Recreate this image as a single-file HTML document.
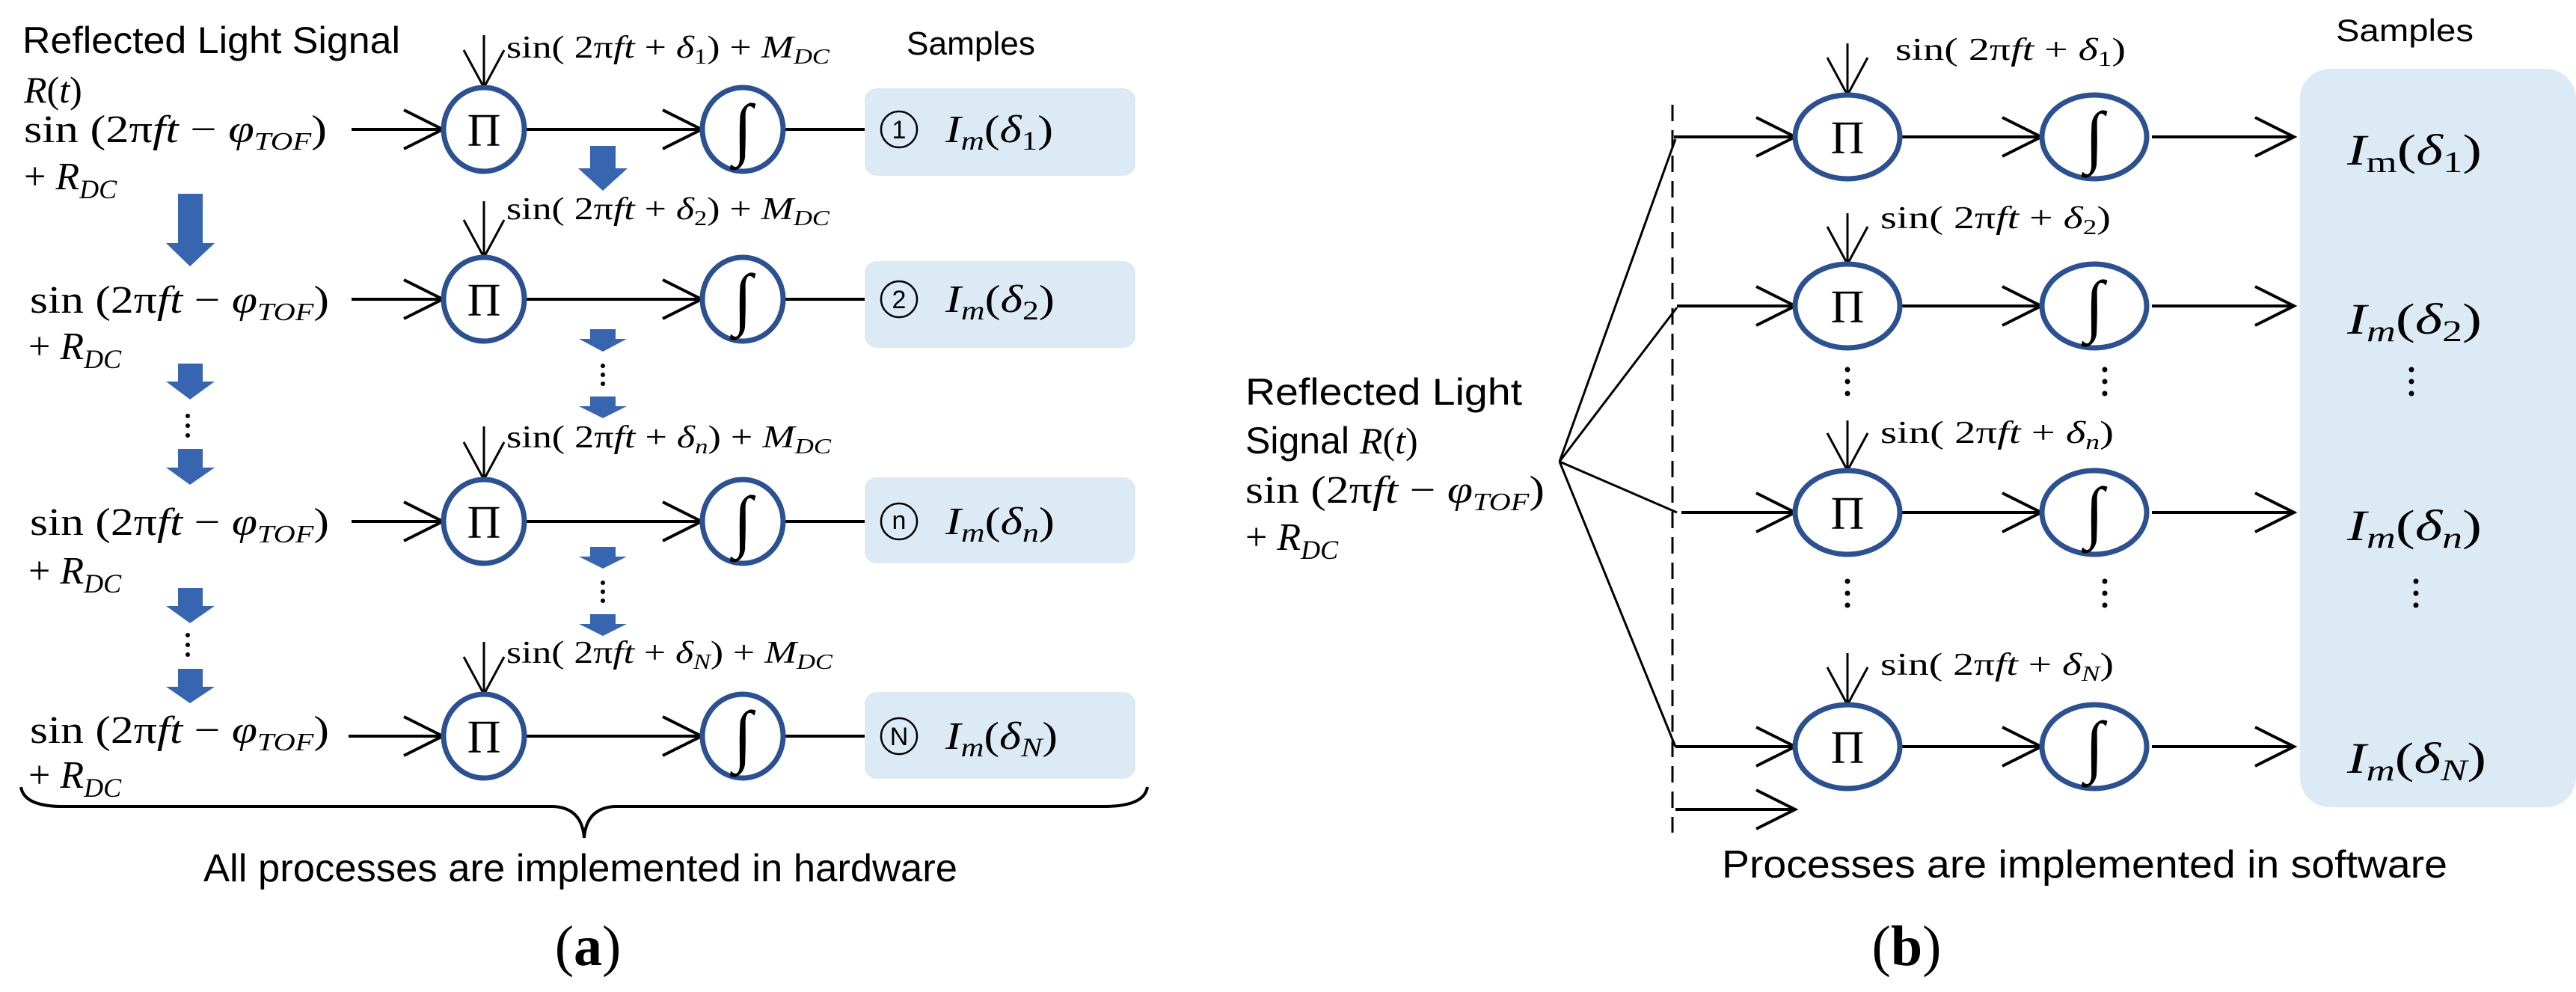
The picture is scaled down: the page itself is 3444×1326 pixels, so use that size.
<!DOCTYPE html>
<html><head><meta charset="utf-8"><style>
html,body{margin:0;padding:0;background:#fff;}
svg{display:block;}
.s{font-family:"Liberation Sans",sans-serif;fill:#000;}
.m{font-family:"Liberation Serif",serif;fill:#000;}
.i{font-style:italic;}
</style></head><body>
<svg width="3444" height="1326" viewBox="0 0 3444 1326" xmlns="http://www.w3.org/2000/svg">
<defs>
<g id="ha"><path d="M-52,-26 L0,0 L-52,26" fill="none" stroke="#000" stroke-width="4"/></g>
<g id="hd"><path d="M-27,-50 L0,0 L27,-50" fill="none" stroke="#000" stroke-width="3"/></g>
</defs>

<!-- ================= PANEL A ================= -->
<text class="s" x="30" y="71" font-size="50" textLength="505" lengthAdjust="spacingAndGlyphs">Reflected Light Signal</text>
<text class="m i" x="32" y="137" font-size="50">R<tspan font-style="normal">(</tspan>t<tspan font-style="normal">)</tspan></text>
<text class="s" x="1212" y="73" font-size="44" textLength="172" lengthAdjust="spacingAndGlyphs">Samples</text>

<g class="m" font-size="52">
<text x="32" y="190" textLength="405" lengthAdjust="spacingAndGlyphs">sin (2π<tspan font-style="italic">ft</tspan> − <tspan font-style="italic">φ</tspan><tspan font-style="italic" font-size="34" dy="10">TOF</tspan><tspan dy="-10">)</tspan></text>
<text x="32" y="253">+ <tspan font-style="italic">R</tspan><tspan font-style="italic" font-size="36" dy="12">DC</tspan></text>
<text x="40" y="418" textLength="400" lengthAdjust="spacingAndGlyphs">sin (2π<tspan font-style="italic">ft</tspan> − <tspan font-style="italic">φ</tspan><tspan font-style="italic" font-size="34" dy="10">TOF</tspan><tspan dy="-10">)</tspan></text>
<text x="38" y="480">+ <tspan font-style="italic">R</tspan><tspan font-style="italic" font-size="36" dy="12">DC</tspan></text>
<text x="40" y="715" textLength="400" lengthAdjust="spacingAndGlyphs">sin (2π<tspan font-style="italic">ft</tspan> − <tspan font-style="italic">φ</tspan><tspan font-style="italic" font-size="34" dy="10">TOF</tspan><tspan dy="-10">)</tspan></text>
<text x="38" y="780">+ <tspan font-style="italic">R</tspan><tspan font-style="italic" font-size="36" dy="12">DC</tspan></text>
<text x="40" y="993" textLength="400" lengthAdjust="spacingAndGlyphs">sin (2π<tspan font-style="italic">ft</tspan> − <tspan font-style="italic">φ</tspan><tspan font-style="italic" font-size="34" dy="10">TOF</tspan><tspan dy="-10">)</tspan></text>
<text x="38" y="1053">+ <tspan font-style="italic">R</tspan><tspan font-style="italic" font-size="36" dy="12">DC</tspan></text>
</g>

<g stroke="#000" stroke-width="4" fill="none">
<line x1="470" y1="173" x2="592" y2="173"/><line x1="703" y1="173" x2="938" y2="173"/><line x1="1048" y1="173" x2="1156" y2="173"/>
<line x1="470" y1="400" x2="592" y2="400"/><line x1="703" y1="400" x2="938" y2="400"/><line x1="1048" y1="400" x2="1156" y2="400"/>
<line x1="470" y1="697" x2="592" y2="697"/><line x1="703" y1="697" x2="938" y2="697"/><line x1="1048" y1="697" x2="1156" y2="697"/>
<line x1="466" y1="984" x2="592" y2="984"/><line x1="703" y1="984" x2="938" y2="984"/><line x1="1048" y1="984" x2="1156" y2="984"/>
</g>
<use href="#ha" x="592" y="173"/><use href="#ha" x="938" y="173"/>
<use href="#ha" x="592" y="400"/><use href="#ha" x="938" y="400"/>
<use href="#ha" x="592" y="697"/><use href="#ha" x="938" y="697"/>
<use href="#ha" x="592" y="984"/><use href="#ha" x="938" y="984"/>

<g stroke="#000" stroke-width="3">
<line x1="647" y1="47" x2="647" y2="117"/><line x1="647" y1="269" x2="647" y2="344"/>
<line x1="647" y1="570" x2="647" y2="641"/><line x1="647" y1="858" x2="647" y2="928"/>
</g>
<use href="#hd" x="647" y="117"/><use href="#hd" x="647" y="344"/><use href="#hd" x="647" y="641"/><use href="#hd" x="647" y="928"/>
<g class="m" font-size="42">
<text x="677" y="77" textLength="432" lengthAdjust="spacingAndGlyphs">sin( 2π<tspan font-style="italic">ft</tspan> + <tspan font-style="italic">δ</tspan><tspan font-size="28" dy="8">1</tspan><tspan dy="-8">) + </tspan><tspan font-style="italic">M</tspan><tspan font-style="italic" font-size="28" dy="8">DC</tspan></text>
<text x="677" y="293" textLength="432" lengthAdjust="spacingAndGlyphs">sin( 2π<tspan font-style="italic">ft</tspan> + <tspan font-style="italic">δ</tspan><tspan font-size="28" dy="8">2</tspan><tspan dy="-8">) + </tspan><tspan font-style="italic">M</tspan><tspan font-style="italic" font-size="28" dy="8">DC</tspan></text>
<text x="677" y="598" textLength="434" lengthAdjust="spacingAndGlyphs">sin( 2π<tspan font-style="italic">ft</tspan> + <tspan font-style="italic">δ</tspan><tspan font-style="italic" font-size="28" dy="8">n</tspan><tspan dy="-8">) + </tspan><tspan font-style="italic">M</tspan><tspan font-style="italic" font-size="28" dy="8">DC</tspan></text>
<text x="677" y="886" textLength="436" lengthAdjust="spacingAndGlyphs">sin( 2π<tspan font-style="italic">ft</tspan> + <tspan font-style="italic">δ</tspan><tspan font-style="italic" font-size="28" dy="8">N</tspan><tspan dy="-8">) + </tspan><tspan font-style="italic">M</tspan><tspan font-style="italic" font-size="28" dy="8">DC</tspan></text>
</g>

<g fill="#fff" stroke="#2c5190" stroke-width="7">
<ellipse cx="647" cy="173" rx="54" ry="56"/><ellipse cx="993" cy="173" rx="54" ry="56"/>
<ellipse cx="647" cy="400" rx="54" ry="56"/><ellipse cx="993" cy="400" rx="54" ry="56"/>
<ellipse cx="647" cy="697" rx="54" ry="56"/><ellipse cx="993" cy="697" rx="54" ry="56"/>
<ellipse cx="647" cy="984" rx="54" ry="56"/><ellipse cx="993" cy="984" rx="54" ry="56"/>
</g>
<g class="m" font-size="62" text-anchor="middle">
<text x="647" y="195">Π</text>
<text x="647" y="422">Π</text>
<text x="647" y="719">Π</text>
<text x="647" y="1006">Π</text>
</g>
<g class="m" font-size="92" font-style="italic" text-anchor="middle">
<text x="993" y="203">∫</text>
<text x="993" y="430">∫</text>
<text x="993" y="727">∫</text>
<text x="993" y="1014">∫</text>
</g>

<g fill="#dceaf5">
<rect x="1156" y="118" width="362" height="117" rx="16"/>
<rect x="1156" y="349" width="362" height="116" rx="16"/>
<rect x="1156" y="638" width="362" height="115" rx="16"/>
<rect x="1156" y="925" width="362" height="116" rx="16"/>
</g>
<g fill="none" stroke="#000" stroke-width="2.5">
<circle cx="1202" cy="173" r="24"/><circle cx="1202" cy="400" r="24"/><circle cx="1202" cy="697" r="24"/><circle cx="1202" cy="984" r="24"/>
</g>
<g class="s" font-size="34" text-anchor="middle">
<text x="1202" y="185">1</text><text x="1202" y="412">2</text><text x="1202" y="707">n</text><text x="1202" y="996">N</text>
</g>
<g class="m" font-size="52">
<text x="1264" y="190" textLength="144" lengthAdjust="spacingAndGlyphs"><tspan font-style="italic">I</tspan><tspan font-style="italic" font-size="36" dy="10">m</tspan><tspan dy="-10">(</tspan><tspan font-style="italic">δ</tspan><tspan font-size="36" dy="10">1</tspan><tspan dy="-10">)</tspan></text>
<text x="1264" y="417" textLength="146" lengthAdjust="spacingAndGlyphs"><tspan font-style="italic">I</tspan><tspan font-style="italic" font-size="36" dy="10">m</tspan><tspan dy="-10">(</tspan><tspan font-style="italic">δ</tspan><tspan font-size="36" dy="10">2</tspan><tspan dy="-10">)</tspan></text>
<text x="1264" y="714" textLength="146" lengthAdjust="spacingAndGlyphs"><tspan font-style="italic">I</tspan><tspan font-style="italic" font-size="36" dy="10">m</tspan><tspan dy="-10">(</tspan><tspan font-style="italic">δ</tspan><tspan font-style="italic" font-size="36" dy="10">n</tspan><tspan dy="-10">)</tspan></text>
<text x="1264" y="1001" textLength="150" lengthAdjust="spacingAndGlyphs"><tspan font-style="italic">I</tspan><tspan font-style="italic" font-size="36" dy="10">m</tspan><tspan dy="-10">(</tspan><tspan font-style="italic">δ</tspan><tspan font-style="italic" font-size="36" dy="10">N</tspan><tspan dy="-10">)</tspan></text>
</g>

<g fill="#3865b0">
<polygon points="789,195 823,195 823,225 839,225 806,255 773,225 789,225"/>
<polygon points="238,259 271,259 271,325 287,325 254,356 222,325 238,325"/>
<polygon points="789,440 823,440 823,453 838,453 806,470 774,453 789,453"/>
<polygon points="789,530 823,530 823,543 838,543 806,559 774,543 789,543"/>
<polygon points="789,731 823,731 823,744 838,744 806,760 774,744 789,744"/>
<polygon points="789,821 823,821 823,834 838,834 806,850 774,834 789,834"/>
<polygon points="238,486 271,486 271,510 287,510 254,534 222,510 238,510"/>
<polygon points="238,600 271,600 271,625 287,625 254,648 222,625 238,625"/>
<polygon points="238,786 271,786 271,810 287,810 254,833 222,810 238,810"/>
<polygon points="238,894 271,894 271,918 287,918 254,940 222,918 238,918"/>
</g>
<g fill="#000">
<circle cx="806" cy="489" r="3"/><circle cx="806" cy="501" r="3"/><circle cx="806" cy="513" r="3"/>
<circle cx="806" cy="779" r="3"/><circle cx="806" cy="791" r="3"/><circle cx="806" cy="803" r="3"/>
<circle cx="251" cy="556" r="3"/><circle cx="251" cy="569" r="3"/><circle cx="251" cy="582" r="3"/>
<circle cx="251" cy="849" r="3"/><circle cx="251" cy="862" r="3"/><circle cx="251" cy="875" r="3"/>
</g>

<path d="M28,1052 Q32,1077 80,1078 L740,1078 Q778,1080 781,1120 Q784,1080 822,1078 L1480,1078 Q1530,1077 1534,1052" fill="none" stroke="#000" stroke-width="4"/>
<text class="s" x="272" y="1178" font-size="52" textLength="1008" lengthAdjust="spacingAndGlyphs">All processes are implemented in hardware</text>
<text class="m" x="786" y="1290" font-size="76" text-anchor="middle">(<tspan font-weight="bold">a</tspan>)</text>

<!-- ================= PANEL B ================= -->
<rect x="3075" y="92" width="369" height="987" rx="40" fill="#dceaf5"/>
<text class="s" x="3123" y="55" font-size="42" textLength="184" lengthAdjust="spacingAndGlyphs">Samples</text>

<text class="s" x="1665" y="541" font-size="50" textLength="370" lengthAdjust="spacingAndGlyphs">Reflected Light</text>
<text class="s" x="1665" y="606" font-size="50">Signal <tspan class="m" font-style="italic">R</tspan><tspan class="m">(</tspan><tspan class="m" font-style="italic">t</tspan><tspan class="m">)</tspan></text>
<text class="m" x="1665" y="672" font-size="52" textLength="400" lengthAdjust="spacingAndGlyphs">sin (2π<tspan font-style="italic">ft</tspan> − <tspan font-style="italic">φ</tspan><tspan font-style="italic" font-size="34" dy="10">TOF</tspan><tspan dy="-10">)</tspan></text>
<text class="m" x="1665" y="735" font-size="52">+ <tspan font-style="italic">R</tspan><tspan font-style="italic" font-size="36" dy="12">DC</tspan></text>

<g stroke="#000" stroke-width="3" fill="none">
<line x1="2085" y1="617" x2="2240" y2="186"/>
<line x1="2085" y1="617" x2="2242" y2="411"/>
<line x1="2085" y1="617" x2="2242" y2="685"/>
<line x1="2085" y1="617" x2="2240" y2="998"/>
</g>
<line x1="2236" y1="140" x2="2236" y2="1113" stroke="#000" stroke-width="3" stroke-dasharray="22,12"/>

<g stroke="#000" stroke-width="4" fill="none">
<line x1="2238" y1="183" x2="2400" y2="183"/><line x1="2542" y1="183" x2="2729" y2="183"/><line x1="2877" y1="183" x2="3067" y2="183"/>
<line x1="2242" y1="409" x2="2400" y2="409"/><line x1="2542" y1="409" x2="2729" y2="409"/><line x1="2877" y1="409" x2="3067" y2="409"/>
<line x1="2248" y1="685" x2="2400" y2="685"/><line x1="2542" y1="685" x2="2729" y2="685"/><line x1="2877" y1="685" x2="3067" y2="685"/>
<line x1="2240" y1="998" x2="2400" y2="998"/><line x1="2542" y1="998" x2="2729" y2="998"/><line x1="2877" y1="998" x2="3067" y2="998"/>
<line x1="2240" y1="1082" x2="2400" y2="1082"/>
</g>
<use href="#ha" x="2400" y="183"/><use href="#ha" x="2729" y="183"/><use href="#ha" x="3067" y="183"/>
<use href="#ha" x="2400" y="409"/><use href="#ha" x="2729" y="409"/><use href="#ha" x="3067" y="409"/>
<use href="#ha" x="2400" y="685"/><use href="#ha" x="2729" y="685"/><use href="#ha" x="3067" y="685"/>
<use href="#ha" x="2400" y="998"/><use href="#ha" x="2729" y="998"/><use href="#ha" x="3067" y="998"/>
<use href="#ha" x="2400" y="1082"/>

<g stroke="#000" stroke-width="3">
<line x1="2470" y1="58" x2="2470" y2="127"/><line x1="2470" y1="285" x2="2470" y2="353"/>
<line x1="2470" y1="562" x2="2470" y2="629"/><line x1="2470" y1="873" x2="2470" y2="942"/>
</g>
<use href="#hd" x="2470" y="127"/><use href="#hd" x="2470" y="353"/><use href="#hd" x="2470" y="629"/><use href="#hd" x="2470" y="942"/>
<g class="m" font-size="42">
<text x="2534" y="80" textLength="308" lengthAdjust="spacingAndGlyphs">sin( 2π<tspan font-style="italic">ft</tspan> + <tspan font-style="italic">δ</tspan><tspan font-size="28" dy="8">1</tspan><tspan dy="-8">)</tspan></text>
<text x="2514" y="305" textLength="308" lengthAdjust="spacingAndGlyphs">sin( 2π<tspan font-style="italic">ft</tspan> + <tspan font-style="italic">δ</tspan><tspan font-size="28" dy="8">2</tspan><tspan dy="-8">)</tspan></text>
<text x="2514" y="592" textLength="312" lengthAdjust="spacingAndGlyphs">sin( 2π<tspan font-style="italic">ft</tspan> + <tspan font-style="italic">δ</tspan><tspan font-style="italic" font-size="28" dy="8">n</tspan><tspan dy="-8">)</tspan></text>
<text x="2514" y="902" textLength="312" lengthAdjust="spacingAndGlyphs">sin( 2π<tspan font-style="italic">ft</tspan> + <tspan font-style="italic">δ</tspan><tspan font-style="italic" font-size="28" dy="8">N</tspan><tspan dy="-8">)</tspan></text>
</g>

<g fill="#fff" stroke="#2c5190" stroke-width="7">
<ellipse cx="2470" cy="183" rx="70" ry="56"/><ellipse cx="2800" cy="183" rx="70" ry="56"/>
<ellipse cx="2470" cy="409" rx="70" ry="56"/><ellipse cx="2800" cy="409" rx="70" ry="56"/>
<ellipse cx="2470" cy="685" rx="70" ry="56"/><ellipse cx="2800" cy="685" rx="70" ry="56"/>
<ellipse cx="2470" cy="998" rx="70" ry="56"/><ellipse cx="2800" cy="998" rx="70" ry="56"/>
</g>
<g class="m" font-size="62" text-anchor="middle">
<text x="2470" y="205">Π</text>
<text x="2470" y="431">Π</text>
<text x="2470" y="707">Π</text>
<text x="2470" y="1020">Π</text>
</g>
<g class="m" font-size="92" font-style="italic" text-anchor="middle">
<text x="2800" y="213">∫</text>
<text x="2800" y="439">∫</text>
<text x="2800" y="715">∫</text>
<text x="2800" y="1028">∫</text>
</g>
<g fill="#000">
<circle cx="2470" cy="494" r="3.5"/><circle cx="2470" cy="510" r="3.5"/><circle cx="2470" cy="526" r="3.5"/>
<circle cx="2814" cy="494" r="3.5"/><circle cx="2814" cy="510" r="3.5"/><circle cx="2814" cy="526" r="3.5"/>
<circle cx="3224" cy="494" r="3.5"/><circle cx="3224" cy="510" r="3.5"/><circle cx="3224" cy="526" r="3.5"/>
<circle cx="2470" cy="777" r="3.5"/><circle cx="2470" cy="793" r="3.5"/><circle cx="2470" cy="809" r="3.5"/>
<circle cx="2814" cy="777" r="3.5"/><circle cx="2814" cy="793" r="3.5"/><circle cx="2814" cy="809" r="3.5"/>
<circle cx="3230" cy="777" r="3.5"/><circle cx="3230" cy="793" r="3.5"/><circle cx="3230" cy="809" r="3.5"/>
</g>
<g class="m" font-size="58">
<text x="3138" y="220" textLength="180" lengthAdjust="spacingAndGlyphs"><tspan font-style="italic">I</tspan><tspan font-size="40" dy="10">m</tspan><tspan dy="-10">(</tspan><tspan font-style="italic">δ</tspan><tspan font-size="40" dy="10">1</tspan><tspan dy="-10">)</tspan></text>
<text x="3138" y="446" textLength="180" lengthAdjust="spacingAndGlyphs"><tspan font-style="italic">I</tspan><tspan font-style="italic" font-size="40" dy="10">m</tspan><tspan dy="-10">(</tspan><tspan font-style="italic">δ</tspan><tspan font-size="40" dy="10">2</tspan><tspan dy="-10">)</tspan></text>
<text x="3138" y="722" textLength="180" lengthAdjust="spacingAndGlyphs"><tspan font-style="italic">I</tspan><tspan font-style="italic" font-size="40" dy="10">m</tspan><tspan dy="-10">(</tspan><tspan font-style="italic">δ</tspan><tspan font-style="italic" font-size="40" dy="10">n</tspan><tspan dy="-10">)</tspan></text>
<text x="3138" y="1033" textLength="186" lengthAdjust="spacingAndGlyphs"><tspan font-style="italic">I</tspan><tspan font-style="italic" font-size="40" dy="10">m</tspan><tspan dy="-10">(</tspan><tspan font-style="italic">δ</tspan><tspan font-style="italic" font-size="40" dy="10">N</tspan><tspan dy="-10">)</tspan></text>
</g>

<text class="s" x="2302" y="1173" font-size="52" textLength="970" lengthAdjust="spacingAndGlyphs">Processes are implemented in software</text>
<text class="m" x="2549" y="1290" font-size="76" text-anchor="middle">(<tspan font-weight="bold">b</tspan>)</text>
</svg>
</body></html>
